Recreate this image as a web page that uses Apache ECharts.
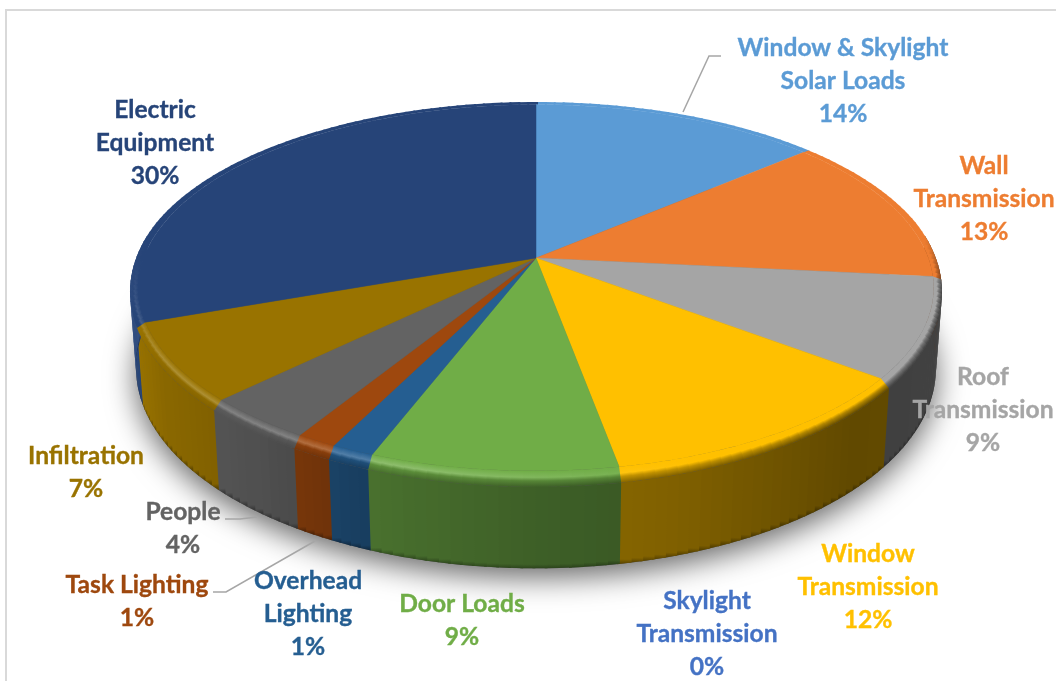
<!DOCTYPE html>
<html><head><meta charset="utf-8">
<style>html,body{margin:0;padding:0;background:#fff}#c{width:1056px;height:681px}</style>
<script src="https://cdn.jsdelivr.net/npm/echarts@6/dist/echarts.min.js"></script>
</head><body><div id="c"></div>
<script>
const categories = ['Window & Skylight\nSolar Loads','Wall\nTransmission','Roof\nTransmission','Window\nTransmission','Skylight\nTransmission','Door Loads','Overhead\nLighting','Task Lighting','People','Infiltration','Electric\nEquipment'];
const shares = [13.6,13,8.8,11.7,0,8.6,1.49,1.41,3.9,6.9,30.49];
const colors = ['#5B9BD5','#ED7D31','#A5A5A5','#FFC000','#4472C4','#70AD47','#255E91','#9E480E','#636363','#997300','#264478'];
const labelAnchors = [[843,47],[984,165],[983,376],[868,553],[707,600],[462,603],[308,580],[137,584],[183,511],[86,455],[155,109]];

// projection of the tilted disc
const CX=536, CY=258, A=400.4, B=181.9, P=0.1657, INSET=0.98, STEP=1.5*Math.PI/180;
const total = shares.reduce((a,b)=>a+b,0);
const startOf = i => shares.slice(0,i).reduce((a,b)=>a+b,0)/total*2*Math.PI;
const clamp=(x,a,b)=>Math.max(a,Math.min(b,x));
function proj(t,r){const u=r*Math.sin(t),v=-r*Math.cos(t),w=1-P*v;return [CX+A*u/w,CY+B*v/w];}
function bevelDrop(t){const v=-Math.cos(t);const k=clamp((v+0.2)/1.2,0,1);return 11*k/(1-P*v)*0.834;}
function rimLow(t){const p=proj(t,1);return [p[0],p[1]+bevelDrop(t)];}
function wallBottom(t){const p=proj(t,1),v=-Math.cos(t);return [CX+(p[0]-CX)*0.985,p[1]+77/(1-P*v)];}
function mixc(hex,f){
  const n=parseInt(hex.slice(1),16);let c=[n>>16,(n>>8)&255,n&255];
  c=c.map(x=>f<=1?x*f:x+(255-x)*(f-1));
  return 'rgb('+c.map(x=>Math.round(clamp(x,0,255))).join(',')+')';
}
const shadeKnots=[[-1,1.05],[-0.85,0.9],[-0.6,0.8],[-0.35,0.65],[0,0.55],[0.3,0.5],[0.7,0.38],[1,0.4]];
function shade(u){
  for(let i=1;i<shadeKnots.length;i++){
    if(u<=shadeKnots[i][0]){const a=shadeKnots[i-1],b=shadeKnots[i];return a[1]+(b[1]-a[1])*(u-a[0])/(b[0]-a[0]);}
  }
  return 0.4;
}
function cuts(a,b){const n=Math.max(1,Math.ceil((b-a)/STEP)),o=[];for(let k=0;k<=n;k++)o.push(a+(b-a)*k/n);return o;}
const LG=echarts.graphic.LinearGradient;
const OVERLAP=0.006;

function renderShadow(params){
  const pts=cuts(0,2*Math.PI).map(wallBottom);
  return {type:'polygon',silent:true,shape:{points:pts},style:{fill:'#555',shadowBlur:30,shadowColor:'rgba(0,0,0,0.6)',shadowOffsetY:9}};
}
function renderWall(params){
  const i=params.dataIndex,c=colors[i],kids=[],ts=cuts(startOf(i),startOf(i+1));
  if(shares[i]===0) return {type:'group',children:[]};
  for(let k=0;k<ts.length-1;k++){
    const a=ts[k],m=(a+ts[k+1])/2,b=ts[k+1]+OVERLAP,v=-Math.cos(m),u=Math.sin(m);
    if(v<-0.12) continue;
    const s=shade(u),p1=rimLow(a),p2=rimLow(b),p3=wallBottom(b),p4=wallBottom(a),top=rimLow(m),bot=wallBottom(m),col=mixc(c,s);
    kids.push({type:'polygon',silent:true,shape:{points:[p1,p2,p3,p4]},style:{
      fill:new LG(top[0],top[1],bot[0],bot[1],[{offset:0,color:col},{offset:0.95,color:col},{offset:1,color:mixc(c,s*0.72)}],true)}});
  }
  return {type:'group',children:kids};
}
function renderBevel(params){
  const i=params.dataIndex,c=colors[i],kids=[],ts=cuts(startOf(i),startOf(i+1));
  if(shares[i]===0) return {type:'group',children:[]};
  for(let k=0;k<ts.length-1;k++){
    const a=ts[k],m=(a+ts[k+1])/2,b=ts[k+1]+OVERLAP,v=-Math.cos(m),u=Math.sin(m);
    const g=clamp((v+0.12)/0.3,0,1);
    const end=1+(shade(u)-1)*g;
    const hl=1+0.2*clamp((0.35-u)/0.6,0,1)*clamp(v*2,0,1);
    const i1=proj(a,INSET),i2=proj(b,INSET),o1=rimLow(a),o2=rimLow(b),im=proj(m,INSET),om=rimLow(m);
    kids.push({type:'polygon',silent:true,shape:{points:[i1,i2,o2,o1]},style:{
      fill:new LG(im[0],im[1],om[0],om[1],[{offset:0,color:mixc(c,1)},{offset:0.4,color:mixc(c,hl)},{offset:0.62,color:mixc(c,(1+end)/2)},{offset:1,color:mixc(c,end)}],true)}});
  }
  return {type:'group',children:kids};
}
function renderTop(params){
  const i=params.dataIndex,c=colors[i];
  if(shares[i]===0) return {type:'group',children:[]};
  const pts=[[CX,CY]].concat(cuts(startOf(i),startOf(i+1)).map(t=>proj(t,INSET)));
  return {type:'polygon',silent:true,shape:{points:pts},style:{fill:c,stroke:c,lineWidth:0.5}};
}
function renderLabel(params,api){
  const i=params.dataIndex,pos=labelAnchors[i];
  return {type:'text',silent:true,style:{
    text:categories[i]+'\n'+Math.round(api.value(0))+'%',x:pos[0],y:pos[1]-15.5,
    align:'center',verticalAlign:'top',lineHeight:33,fill:colors[i],stroke:colors[i],lineWidth:0.35,
    fontFamily:'Lato',fontWeight:'bold',fontSize:24.6}};
}
const seriesData=shares.map(v=>[v]);
const layer=(fn,z,data)=>({type:'custom',coordinateSystem:'none',renderItem:fn,data:data||seriesData,z:z,animation:false,silent:true});
const leader=pts=>({type:'polyline',z:20,silent:true,shape:{points:pts},style:{stroke:'#a6a6a6',lineWidth:1.5,fill:null}});
const chart=echarts.init(document.getElementById('c'),null,{renderer:'canvas'});
chart.setOption({
  backgroundColor:'#fff',animation:false,
  graphic:[
    {type:'rect',z:0,silent:true,shape:{x:6,y:10,width:1100,height:720},style:{fill:'#fff',stroke:'#d9d9d9',lineWidth:2}},
    leader([[683,112],[709,56],[721,56]]),
    leader([[225,519],[240,519],[257,517]]),
    leader([[213,592],[226,592],[315,541]])
  ],
  series:[
    layer(renderShadow,1,[[1]]),
    layer(renderWall,2),
    layer(renderBevel,3),
    layer(renderTop,4),
    layer(renderLabel,30)
  ]
});
</script></body></html>
